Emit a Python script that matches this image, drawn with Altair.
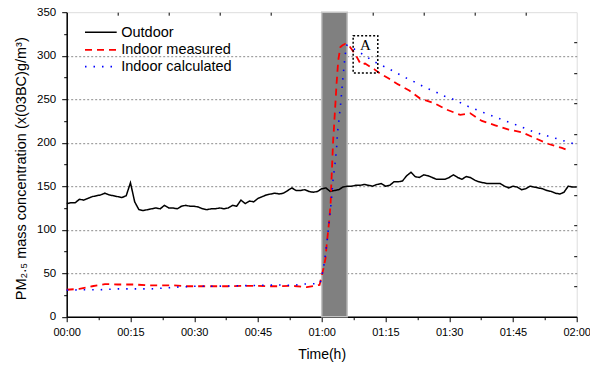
import altair as alt
import pandas as pd

# ---------------- data ----------------
outdoor_min = list(range(0, 121))
outdoor_val = [
    130, 131, 131, 135, 134, 136, 138, 139, 140, 142,
    140, 139, 138, 137, 139, 154, 132, 123, 122, 123,
    124, 125, 124, 128, 125, 125, 124, 127, 128, 127,
    127, 126, 124, 123, 124, 124, 125, 124, 125, 128,
    127, 134, 130, 133, 132, 136, 138, 140, 141, 142,
    141, 142, 145, 148, 145, 145, 146, 144, 143, 144,
    147, 148, 144, 145, 146, 149, 150, 150, 151, 151,
    152, 151, 150, 152, 153, 150, 151, 155, 155, 156,
    162, 166, 161, 160, 163, 162, 160, 158, 158, 158,
    160, 163, 160, 158, 161, 160, 157, 155, 154, 153,
    153, 153, 153, 150, 148, 150, 149, 146, 147, 150,
    149, 148, 147, 145, 144, 142, 141, 143, 150, 149,
    149,
]

measured_min = [0, 3, 6, 9, 12, 16, 19, 22, 25, 28, 31, 35, 38, 41, 44,
                47, 50, 53, 56.5, 59.5, 60.4, 60.9, 61.2, 61.7, 62.1,
                62.3, 62.5, 62.7, 62.9, 63.1, 63.3, 63.5, 63.9, 64.4, 64.9,
                65.5, 66.4, 67.1, 68.1, 69.2, 70.2, 71.5, 72.5, 73.3, 75.7,
                78, 80.6, 83.1, 86.7, 89.4, 92.6, 94.9, 97.7, 100.8, 104,
                107.1, 110.3, 113.4, 116.5, 117.5]
measured_val = [31, 32, 35, 37.5, 37, 37, 36, 36, 36, 35, 35, 35, 35, 35.5, 35.5,
                35, 35, 35.5, 34, 36.5, 55, 67, 84, 107, 130,
                157, 180, 203, 218, 235, 251, 268, 295, 310, 312,
                313.5, 312, 307, 300, 290, 291, 287, 284, 281, 274,
                267, 260, 251, 245, 238, 232, 234, 225, 220, 215,
                212, 205, 198.5, 194, 192]

calc_min = [0, 4, 8, 12, 16, 20, 23, 26, 30, 35, 40, 45, 50, 53, 56,
            59, 59.6, 60.0, 60.4, 60.7, 61.2, 61.7, 62.2, 62.7, 63.1,
            63.5, 63.7, 64.1, 64.5, 64.8, 65.1, 65.5, 65.9, 66.6, 68.5,
            70.5, 72, 73.6, 75.6, 77.5, 79.2, 81.1, 82.9, 84.7, 86.7,
            88.4, 90.4, 92.1, 94, 95.9, 97.6, 99.6, 101.4, 103.3, 105,
            106.9, 108.9, 110.5, 112.5, 114.4, 116.4, 118.4, 120]
calc_val = [30.5, 31, 31, 32, 32, 32, 33, 34, 35, 35, 35.5, 36, 36.5, 36, 37.5,
            38, 38, 46, 55.6, 65, 84, 107, 130, 159, 174,
            193.5, 211, 228, 247, 264, 280, 300, 312, 311, 305,
            299, 294, 290, 285.5, 280.5, 276, 271.6, 267.2, 262.6, 258.8,
            254.2, 251, 247.3, 242.6, 238.8, 235.6, 231.8, 228.6, 224.8, 222,
            218.2, 214.4, 211.4, 208.7, 206, 203, 200, 198]

series_names = ["Outdoor", "Indoor measured", "Indoor calculated"]
band_start, band_end = [60], [66]          # shaded period (minutes)
box_x, box_x2, box_y, box_y2 = [67.4], [73.2], [280], [323]   # box "A"
box_label = ["A"]
x_major = list(range(0, 121, 15))
y_major = list(range(0, 351, 50))

# ---------------- layout constants ----------------
W, H = 510, 304.5
FONT = "Liberation Sans"
xs = alt.Scale(domain=[0, 120], nice=False, zero=False)
ys = alt.Scale(domain=[0, 350], nice=False, zero=False)

df_out = pd.DataFrame({"t": outdoor_min, "v": outdoor_val})
df_meas = pd.DataFrame({"t": measured_min, "v": measured_val})
df_calc = pd.DataFrame({"t": calc_min, "v": calc_val})
df_band = pd.DataFrame({"x1": band_start, "x2": band_end, "y1": [0], "y2": [350]})
df_box = pd.DataFrame({"x1": box_x, "x2": box_x2, "y1": box_y, "y2": box_y2,
                       "tx": [(box_x[0] + box_x2[0]) / 2], "ty": [312], "lab": box_label})

x_vals = [v / 2 for v in range(0, 241, 15)]      # 0, 7.5, 15, ...
y_vals = list(range(0, 351, 25))

bottom_axis = alt.Axis(
    values=x_vals,
    labelExpr="datum.value % 15 == 0 ? ('0' + floor(datum.value/60)) + ':' + "
              "(datum.value % 60 < 10 ? '0' : '') + (datum.value % 60) : ''",
    tickSize={"condition": {"test": "datum.value % 15 == 0", "value": 5}, "value": 3},
    tickColor="#000", tickWidth=1, domainColor="#000", domainWidth=1.5,
    grid=False, labelFont=FONT, labelFontSize=11, labelColor="#000",
    labelPadding=5, labelFlush=False, labelOverlap=False, labelBound=False,
    title="Time(h)", titleFont=FONT, titleFontSize=14, titleFontWeight="normal",
    titleColor="#000", titleBaseline="alphabetic", titleY=42, titleX=W / 2,
)
left_axis = alt.Axis(
    values=y_vals,
    labelExpr="datum.value % 50 == 0 ? datum.value : ''",
    tickSize={"condition": {"test": "datum.value % 50 == 0", "value": 5}, "value": 3},
    tickColor="#000", tickWidth=1, domainColor="#000", domainWidth=1.5,
    grid=True,
    gridOpacity={"condition": {"test": "datum.value % 50 == 0 && datum.value > 0 && datum.value < 350",
                               "value": 1}, "value": 0},
    gridColor="#8a8a8a", gridDash=[2, 2], gridWidth=1,
    labelFont=FONT, labelFontSize=11.5, labelColor="#000", labelPadding=6,
    labelFlush=False, labelOverlap=False,
    title="PM\u2082.\u2085 mass concentration (x(03BC)g/m\u00b3)",
    titleFont=FONT, titleFontSize=14.5, titleFontWeight="normal", titleColor="#000",
    titleAngle=270, titleBaseline="alphabetic", titleAlign="center",
    titleX=-41.5, titleY=156,
)
top_axis = alt.Axis(orient="top", values=list(range(12, 120, 12)), labels=False,
                    domain=False, ticks=True, tickSize=3, offset=-3, tickColor="#000",
                    grid=False, title=None)
right_axis = alt.Axis(orient="right", values=list(range(35, 350, 35)), labels=False,
                      domain=False, ticks=True, tickSize=3, offset=-3, tickColor="#000",
                      grid=False, title=None)

band = alt.Chart(df_band).mark_rect(color="#808080", stroke="#c4c4c4", strokeWidth=1.5).encode(
    x=alt.X("x1:Q", scale=xs, axis=bottom_axis), x2="x2:Q",
    y=alt.Y("y1:Q", scale=ys, axis=left_axis), y2="y2:Q",
)
frame_ticks = alt.Chart(df_band).mark_rect(opacity=0).encode(
    x=alt.X("x1:Q", scale=xs, axis=top_axis), x2="x2:Q",
    y=alt.Y("y1:Q", scale=ys, axis=right_axis), y2="y2:Q",
)


def series_line(df, color, dash, width):
    return alt.Chart(df).mark_line(color=color, strokeDash=dash, strokeWidth=width,
                                   interpolate="linear").encode(
        x=alt.X("t:Q", scale=xs, axis=None),
        y=alt.Y("v:Q", scale=ys, axis=None),
        order="t:Q",
    )


styles = {
    "Outdoor": ("#000000", [1, 0], 1.5),
    "Indoor measured": ("#ff0000", [7, 5], 1.8),
    "Indoor calculated": ("#0000ff", [1.5, 7], 1.6),
}

l_out = series_line(df_out, *styles["Outdoor"])
l_meas = series_line(df_meas, *styles["Indoor measured"])
l_calc = series_line(df_calc, *styles["Indoor calculated"])

box = alt.Chart(df_box).mark_rect(fill=None, stroke="#000", strokeDash=[2, 2], strokeWidth=1.5).encode(
    x=alt.X("x1:Q", scale=xs, axis=None), x2="x2:Q",
    y=alt.Y("y1:Q", scale=ys, axis=None), y2="y2:Q",
)
box_text = alt.Chart(df_box).mark_text(font="Liberation Serif", fontSize=15, color="#000",
                                       baseline="middle", align="center").encode(
    x=alt.X("tx:Q", scale=xs, axis=None), y=alt.Y("ty:Q", scale=ys, axis=None), text="lab:N",
)

# legend (pixel layout inside the plot)
legend_layers = []
leg_y = [20, 37.7, 54.4]
for name, yy in zip(series_names, leg_y):
    c, d, w = styles[name]
    legend_layers.append(
        alt.Chart(df_band).mark_rule(color=c, strokeDash=d, strokeWidth=w).encode(
            x=alt.value(18.3), x2=alt.value(50), y=alt.value(yy))
    )
    legend_layers.append(
        alt.Chart(df_band).mark_text(font=FONT, fontSize=14.5, color="#000", align="left",
                                     baseline="middle").encode(
            x=alt.value(54.5), y=alt.value(yy + 0.5), text=alt.value(name))
    )

chart = alt.layer(band, frame_ticks, l_out, l_meas, l_calc, box, box_text, *legend_layers).resolve_axis(
    x="independent", y="independent"
).properties(
    width=W, height=H,
    autosize=alt.AutoSizeParams(type="none"),
    padding={"left": 66.7, "top": 12.2, "right": 13.3, "bottom": 48.3},
    background="white",
).configure_view(stroke="#000", strokeWidth=1.5).configure(font=FONT)

chart.save("out.html", embed_options={"renderer": "svg", "actions": False})
